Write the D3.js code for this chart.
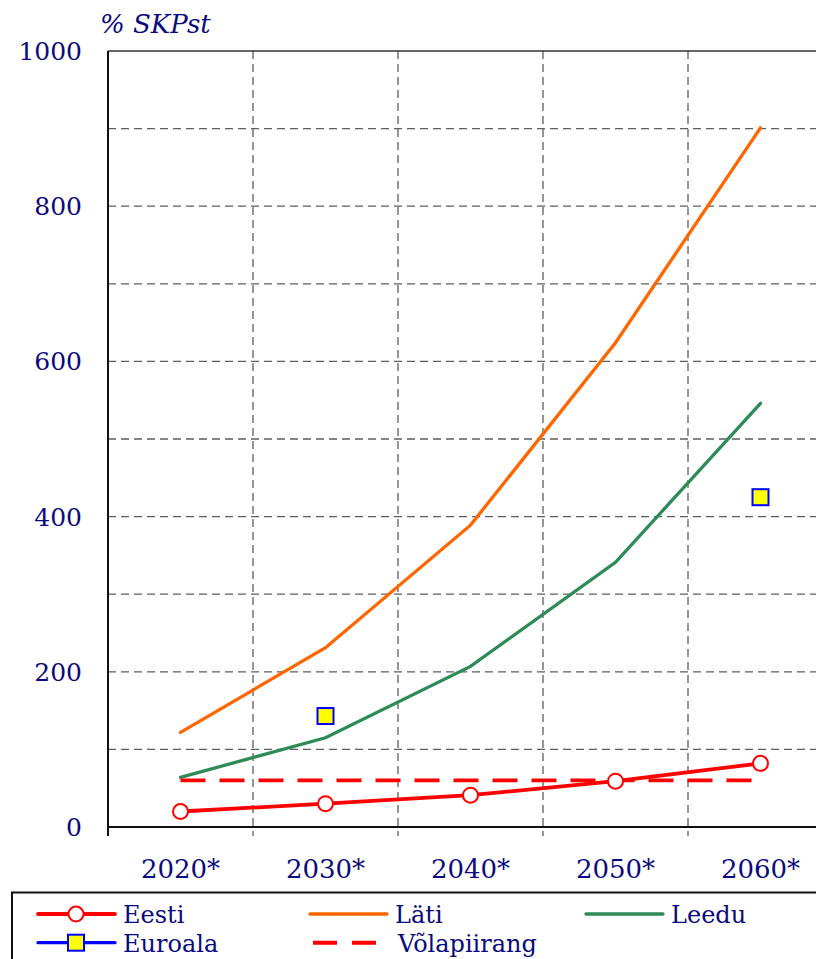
<!DOCTYPE html>
<html lang="et">
<head>
<meta charset="utf-8">
<script src="https://d3js.org/d3.v7.min.js"></script>
<style>
  body { margin: 0; background: #fff; }
  svg { display: block; }
  text { font-family: "DejaVu Serif", serif; fill: #0a0a80; }
</style>
</head>
<body>
<script>
// data
var years = ["2020*", "2030*", "2040*", "2050*", "2060*"];
var eesti = [20, 30, 41, 59, 82];
var lati = [122, 231, 389, 624, 901];
var leedu = [64, 115, 207, 341, 546];
var euroala = [null, 143, null, null, 425];
var volapiirang = [60, 60, 60, 60, 60];
var yTicks = [0, 200, 400, 600, 800, 1000];

drawChart();

function drawChart() {
    var width = 816, height = 959;
    var plotLeft = 108, plotTop = 51, plotBottom = 827;

    var svg = d3.select("body").append("svg")
        .attr("width", width)
        .attr("height", height);

    var x = d3.scaleBand().domain(years).range([plotLeft, plotLeft + 5 * 145]).padding(0);
    var y = d3.scaleLinear().domain([0, 1000]).range([plotBottom, plotTop]);
    var cx = function(i) { return x(years[i]) + x.bandwidth() / 2; };

    // grid
    svg.append("g").selectAll("line")
        .data(d3.range(100, 1000, 100))
        .enter().append("line")
        .attr("x1", plotLeft).attr("x2", width)
        .attr("y1", function(d) { return y(d); })
        .attr("y2", function(d) { return y(d); })
        .attr("stroke", "#5e5e5e")
        .attr("stroke-width", 1.3)
        .attr("stroke-dasharray", "8,5");

    svg.append("g").selectAll("line")
        .data(years.slice(1))
        .enter().append("line")
        .attr("x1", function(d) { return x(d); })
        .attr("x2", function(d) { return x(d); })
        .attr("y1", plotTop).attr("y2", plotBottom + 9)
        .attr("stroke", "#5e5e5e")
        .attr("stroke-width", 1.3)
        .attr("stroke-dasharray", "8,5");

    // frame
    svg.append("line").attr("x1", plotLeft).attr("x2", width)
        .attr("y1", plotTop).attr("y2", plotTop)
        .attr("stroke", "#333").attr("stroke-width", 1.3);
    svg.append("line").attr("x1", plotLeft).attr("x2", plotLeft)
        .attr("y1", plotTop).attr("y2", plotBottom + 9)
        .attr("stroke", "#111").attr("stroke-width", 2);
    svg.append("line").attr("x1", plotLeft).attr("x2", width)
        .attr("y1", plotBottom).attr("y2", plotBottom)
        .attr("stroke", "#111").attr("stroke-width", 2);

    // axis labels
    svg.append("g").selectAll("text")
        .data(yTicks)
        .enter().append("text")
        .attr("x", 82)
        .attr("y", function(d) { return y(d) + 9; })
        .attr("text-anchor", "end")
        .style("font-size", "25px")
        .text(function(d) { return d; });

    svg.append("g").selectAll("text")
        .data(years)
        .enter().append("text")
        .attr("x", function(d, i) { return cx(i); })
        .attr("y", 878)
        .attr("text-anchor", "middle")
        .style("font-size", "26px")
        .text(function(d) { return d; });

    svg.append("text")
        .attr("x", 100).attr("y", 33)
        .style("font-size", "26px")
        .style("font-style", "italic")
        .text("% SKPst");

    // series
    var line = d3.line()
        .defined(function(d) { return d != null; })
        .x(function(d, i) { return cx(i); })
        .y(function(d) { return y(d); });

    svg.append("path").datum(lati)
        .attr("d", line).attr("fill", "none")
        .attr("stroke", "#ff6600").attr("stroke-width", 3.3).attr("stroke-linecap", "round");
    svg.append("path").datum(leedu)
        .attr("d", line).attr("fill", "none")
        .attr("stroke", "#2e8b57").attr("stroke-width", 3.3).attr("stroke-linecap", "round");

    svg.append("g").selectAll("rect")
        .data(euroala.map(function(d, i) { return {v: d, i: i}; }).filter(function(d) { return d.v != null; }))
        .enter().append("rect")
        .attr("x", function(d) { return cx(d.i) - 8; })
        .attr("y", function(d) { return y(d.v) - 8; })
        .attr("width", 16).attr("height", 16)
        .attr("fill", "#ffff00").attr("stroke", "#0000ff").attr("stroke-width", 2);

    svg.append("path").datum(volapiirang)
        .attr("d", line).attr("fill", "none")
        .attr("stroke", "#ff0000").attr("stroke-width", 3.8)
        .attr("stroke-dasharray", "25,14");

    svg.append("path").datum(eesti)
        .attr("d", line).attr("fill", "none")
        .attr("stroke", "#ff0000").attr("stroke-width", 3.8);
    svg.append("g").selectAll("circle")
        .data(eesti)
        .enter().append("circle")
        .attr("cx", function(d, i) { return cx(i); })
        .attr("cy", function(d) { return y(d); })
        .attr("r", 7.5)
        .attr("fill", "#fff").attr("stroke", "#ff0000").attr("stroke-width", 2);

    // legend
    svg.append("rect")
        .attr("x", 12).attr("y", 892.5)
        .attr("width", 830).attr("height", 90)
        .attr("fill", "none").attr("stroke", "#111").attr("stroke-width", 2);

    var legendItems = [
        {name: "Eesti", x: 38, row: 0, color: "#ff0000", w: 3.8, marker: "circle"},
        {name: "Läti", x: 310, row: 0, color: "#ff6600", w: 3.3},
        {name: "Leedu", x: 586, row: 0, color: "#2e8b57", w: 3.3},
        {name: "Euroala", x: 38, row: 1, color: "#0000ff", w: 3.3, marker: "square"},
        {name: "Võlapiirang", x: 313, row: 1, color: "#ff0000", w: 4, dash: "24,15"}
    ];

    var lg = svg.append("g").selectAll("g")
        .data(legendItems)
        .enter().append("g")
        .attr("transform", function(d) { return "translate(" + d.x + "," + (914 + d.row * 28.7) + ")"; });

    lg.append("line")
        .attr("x1", 0).attr("x2", 77)
        .attr("stroke", function(d) { return d.color; })
        .attr("stroke-width", function(d) { return d.w; })
        .attr("stroke-linecap", function(d) { return d.dash ? "butt" : "round"; })
        .attr("stroke-dasharray", function(d) { return d.dash || null; });

    lg.filter(function(d) { return d.marker == "circle"; }).append("circle")
        .attr("cx", 38).attr("r", 7.5)
        .attr("fill", "#fff").attr("stroke", "#ff0000").attr("stroke-width", 2);
    lg.filter(function(d) { return d.marker == "square"; }).append("rect")
        .attr("x", 30).attr("y", -8).attr("width", 16).attr("height", 16)
        .attr("fill", "#ffff00").attr("stroke", "#0000ff").attr("stroke-width", 2);

    lg.append("text")
        .attr("x", 85).attr("y", 9)
        .style("font-size", "24px")
        .text(function(d) { return d.name; });
}
</script>
</body>
</html>
